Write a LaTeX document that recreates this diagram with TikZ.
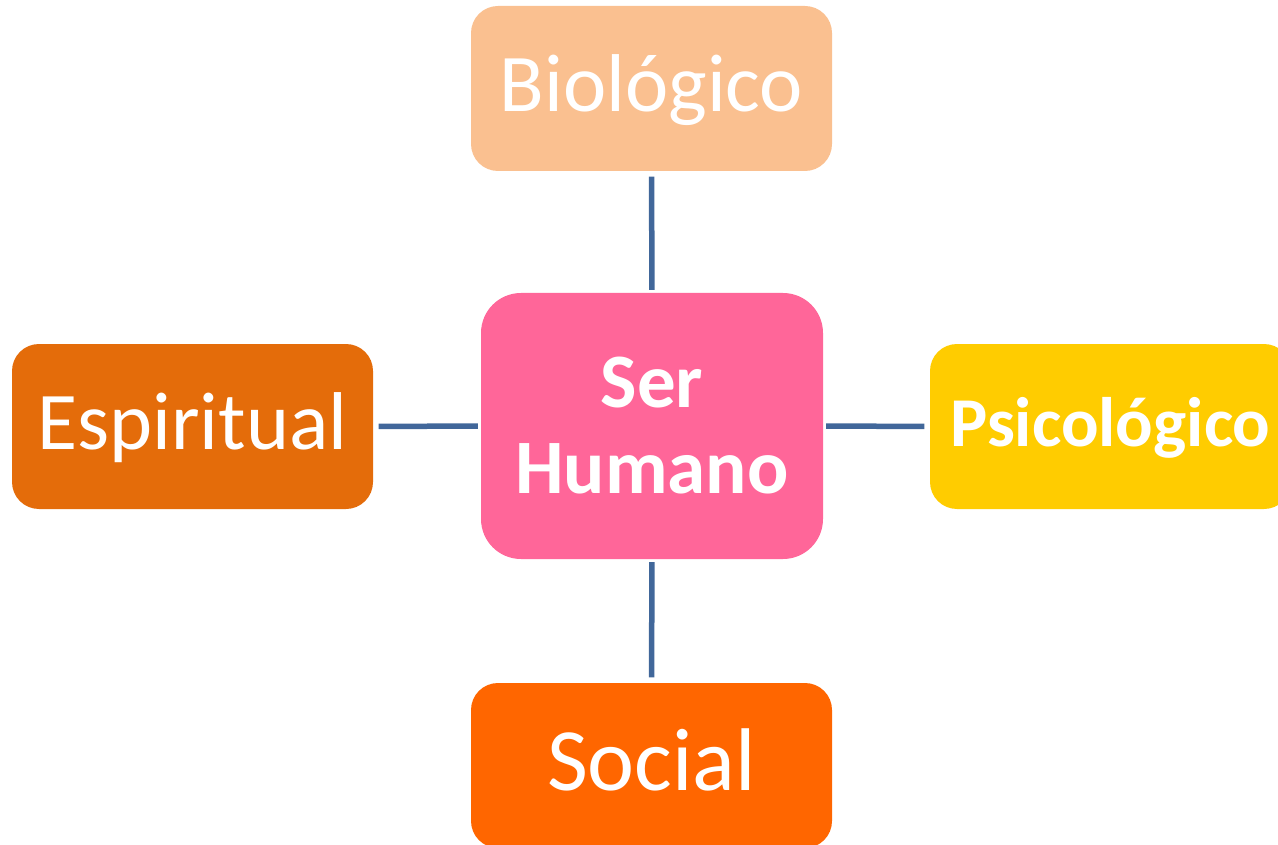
\documentclass[tikz,border=0pt]{standalone}
\usepackage{fontspec}
\setmainfont{Carlito}
\definecolor{cbio}{HTML}{FAC090}
\definecolor{cser}{HTML}{FF6699}
\definecolor{cesp}{HTML}{E46C0A}
\definecolor{cpsi}{HTML}{FFCC00}
\definecolor{csoc}{HTML}{FF6600}
\definecolor{cline}{HTML}{41679A}
\tikzset{
  box/.style={rectangle, rounded corners=27pt, inner sep=0pt, text=white,
    minimum width=361pt, minimum height=165pt,
    font=\fontsize{82}{98}\selectfont, text height=52.5pt, text depth=6.6pt},
  conn/.style={draw=cline, line width=5.5pt, shorten <=3pt, shorten >=5.5pt}
}
\begin{document}
\begin{tikzpicture}[x=1pt,y=-1pt]
\path[use as bounding box] (0,0) rectangle (1278,845);
\clip (0,0) rectangle (1278,845);
\node[box, fill=cbio] (bio) at (651.5,88.5) {Biológico};
\node[box, fill=cesp] (esp) at (192.5,426.5) {Espiritual};
\node[box, fill=cpsi, font=\bfseries\fontsize{70}{84}\selectfont, text height=45pt, text depth=5.6pt] (psi) at (1110.5,426.5) {Psicológico};
\node[box, fill=csoc, font=\fontsize{89}{106}\selectfont, text height=57pt, text depth=7pt] (soc) at (651.5,765.5) {Social};
\node[box, fill=cser, rounded corners=40pt, minimum width=342pt, minimum height=266pt,
  align=center, text height=, text depth=, font=\bfseries\fontsize{77}{86}\selectfont] (ser) at (652,426) {Ser\\Humano};
\draw[conn] (ser.north) -- (bio.south);
\draw[conn] (ser.west) -- (esp.east);
\draw[conn] (ser.east) -- (psi.west);
\draw[conn] (ser.south) -- (soc.north);
\end{tikzpicture}
\end{document}
